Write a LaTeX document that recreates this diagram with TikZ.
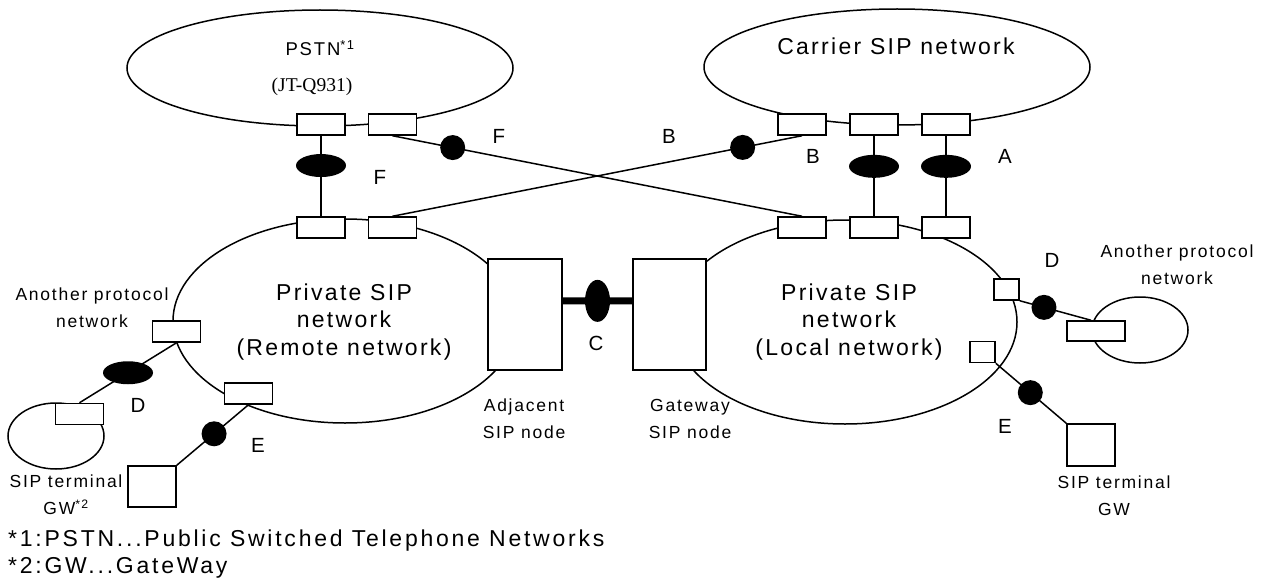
\documentclass[tikz,border=0pt]{standalone}
\usepackage{fontspec}
\setmainfont{Liberation Sans}[LetterSpace=10]
\newfontfamily\seriffont{Liberation Serif}
\newfontfamily\notefont{Liberation Sans}[LetterSpace=12]
\usetikzlibrary{shapes.geometric}
\newcommand\bigf{\fontsize{23}{27.5}\selectfont}
\newcommand\midf{\fontsize{17.5}{27}\selectfont}
\newcommand\letf{\fontsize{20.5}{24}\selectfont}
\tikzset{
  ln/.style={line width=1.5pt},
  port/.style={draw, fill=white, line width=1.5pt, minimum width=48pt, minimum height=21pt, inner sep=0pt},
  sq/.style={draw, fill=white, line width=1.5pt, minimum width=25pt, minimum height=21pt, inner sep=0pt},
  term/.style={draw, fill=white, line width=1.5pt, minimum width=48pt, minimum height=41pt, inner sep=0pt},
  sipnode/.style={draw, fill=white, line width=1.5pt, minimum width=74pt, minimum height=111pt, inner sep=0pt},
  net/.style={draw, ellipse, line width=1.5pt, inner sep=0pt},
  blob/.style={ellipse, fill=black, minimum width=50pt, minimum height=23pt, inner sep=0pt},
  dot/.style={circle, fill=black, minimum size=25pt, inner sep=0pt},
  big/.style={font=\bigf, align=center, inner sep=0pt},
  mid/.style={font=\midf, align=center, inner sep=0pt},
  let/.style={font=\letf, inner sep=0pt},
  note/.style={font=\notefont\bigf, anchor=west, inner sep=0pt},
}
\begin{document}
\begin{tikzpicture}[x=1pt,y=-1pt]
\useasboundingbox (0,0) rectangle (1271,583);
% networks
\node[net, minimum width=386pt, minimum height=116pt] (pstn) at (320,68) {};
\node[net, minimum width=386pt, minimum height=116pt] (carrier) at (897,67) {};
\node[net, minimum width=344pt, minimum height=204pt] (remote) at (345,321) {};
\node[net, minimum width=344pt, minimum height=204pt] (local) at (845,322) {};
\node[net, minimum width=96pt, minimum height=66pt] (anl) at (56,436) {};
\node[net, minimum width=96pt, minimum height=66pt] (anr) at (1140,330) {};
% ports
\node[port] (pb1) at (321,124.5) {};
\node[port] (pb2) at (392.5,124.5) {};
\node[port] (rb1) at (321,227.5) {};
\node[port] (rb2) at (392.5,227.5) {};
\node[port] (cb1) at (802,124.5) {};
\node[port] (cb2) at (874,124.5) {};
\node[port] (cb3) at (946,124.5) {};
\node[port] (lb1) at (802,227.5) {};
\node[port] (lb2) at (874,227.5) {};
\node[port] (lb3) at (946,227.5) {};
\node[port] (rl) at (176.5,331.5) {};
\node[port] (rbb) at (248.5,393.5) {};
\node[port] (sl) at (79.5,414) {};
\node[port, minimum width=58pt, minimum height=20pt] (sr) at (1096,331) {};
\node[sq] (ls1) at (1006.5,289.5) {};
\node[sq] (ls2) at (982.5,352) {};
\node[term] (st1) at (152,486.5) {};
\node[term, minimum height=42pt] (st2) at (1091,445) {};
\node[sipnode] (adj) at (525,314.5) {};
\node[sipnode, minimum width=73pt] (gw) at (669.5,314.5) {};
% connectors
\draw[ln] (pb1.south) -- (rb1.north) node[blob, pos=0.37] (e1) {};
\draw[ln] (cb2.south) -- (lb2.north) node[blob, pos=0.38] (e2) {};
\draw[ln] (cb3.south) -- (lb3.north) node[blob, pos=0.38] (e3) {};
\draw[ln] (pb2.south) -- (lb1.north) node[dot, pos=0.147] (d1) {};
\draw[ln] (rb2.north) -- (cb1.south) node[dot, pos=0.855] (d2) {};
\draw[line width=7pt] (adj.20) -- (gw.160) node[ellipse, fill=black, minimum width=25pt, minimum height=42pt, inner sep=0pt, midway] (e4) {};
\draw[ln] (rl.south) -- (sl.north) node[blob, pos=0.5] (e5) {};
\draw[ln] (rbb.south) -- (st1.north east) node[dot, pos=0.48] (d3) {};
\draw[ln] (ls1.south east) -- ([xshift=-5pt]sr.north) node[dot, pos=0.34] (d4) {};
\draw[ln] (ls2.south east) -- (st2.north west) node[dot, pos=0.49] (d5) {};
% texts
\node[font=\fontsize{18.5}{22}\selectfont, inner sep=0pt] (tpstn) at (320,48) {PSTN\textsuperscript{*1}};
\node[font=\seriffont\fontsize{19.5}{22}\selectfont, inner sep=0pt] (tq) at (312,87) {(JT-Q931)};
\node[big] (tcar) at (896,46) {Carrier SIP network};
\node[big] (trem) at (344,322) {Private SIP\\network\\(Remote network)};
\node[big] (tloc) at (849,322) {Private SIP\\network\\(Local network)};
\node[mid] (tadj) at (524,419) {Adjacent\\SIP node};
\node[mid] (tgw) at (690,419) {Gateway\\SIP node};
\node[mid] (tanl) at (92,308) {Another protocol\\network};
\node[mid] (tanr) at (1177,265) {Another protocol\\network};
\node[mid] (tstl) at (66,495) {SIP terminal\\GW\textsuperscript{*2}};
\node[mid] (tstr) at (1114,496) {SIP terminal\\GW};
\node[let] at (499,136) {F};
\node[let] at (380,177) {F};
\node[let] at (669,136) {B};
\node[let] at (813,156) {B};
\node[let] at (1005,156) {A};
\node[let] at (596,343) {C};
\node[let] at (138,405) {D};
\node[let] at (258,445) {E};
\node[let] at (1052,260) {D};
\node[let] at (1005,426) {E};
\node[note] (fn1) at (8,541) {*1:PSTN...Public Switched Telephone Networks};
\node[note] (fn2) at (8,568) {*2:GW...GateWay};
\end{tikzpicture}
\end{document}
